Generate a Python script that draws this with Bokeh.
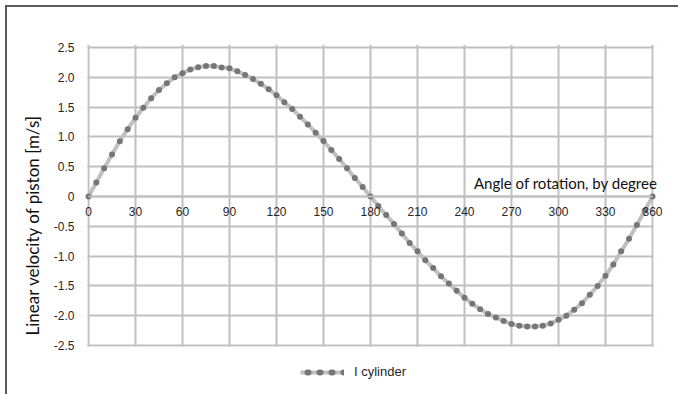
from bokeh.plotting import figure
from bokeh.models import (FixedTicker, Legend, LegendItem, Label, Range1d, ColumnDataSource,
                          LinearAxis, BoxAnnotation)
from bokeh.embed import file_html
from bokeh.resources import INLINE

# ---- data ----
angles = [0, 5, 10, 15, 20, 25, 30, 35, 40, 45, 50, 55, 60, 65, 70, 75, 80, 85,
          90, 95, 100, 105, 110, 115, 120, 125, 130, 135, 140, 145, 150, 155, 160, 165, 170, 175,
          180, 185, 190, 195, 200, 205, 210, 215, 220, 225, 230, 235, 240, 245, 250, 255, 260, 265,
          270, 275, 280, 285, 290, 295, 300, 305, 310, 315, 320, 325, 330, 335, 340, 345, 350, 355, 360]
velocity = [0, 0.235, 0.476, 0.705, 0.929, 1.13, 1.32, 1.49, 1.65, 1.785, 1.90, 2.00, 2.07, 2.13, 2.17, 2.19, 2.19, 2.165,
            2.15, 2.10, 2.04, 1.97, 1.89, 1.80, 1.70, 1.58, 1.47, 1.34, 1.21, 1.07, 0.93, 0.78, 0.63, 0.475, 0.31, 0.16,
            0, -0.16, -0.31, -0.46, -0.62, -0.78, -0.92, -1.07, -1.20, -1.34, -1.46, -1.58, -1.70, -1.80, -1.89, -1.97, -2.03, -2.09,
            -2.14, -2.17, -2.18, -2.18, -2.17, -2.13, -2.07, -2.00, -1.90, -1.79, -1.65, -1.50, -1.33, -1.14, -0.92, -0.71, -0.48, -0.24, 0]
x_ticks = [0, 30, 60, 90, 120, 150, 180, 210, 240, 270, 300, 330, 360]
y_ticks = [-2.5, -2.0, -1.5, -1.0, -0.5, 0, 0.5, 1.0, 1.5, 2.0, 2.5]
y_tick_labels = {-2.5: "-2.5", -2.0: "-2.0", -1.5: "-1.5", -1.0: "-1.0", -0.5: "-0.5", 0: "0",
                 0.5: "0.5", 1.0: "1.0", 1.5: "1.5", 2.0: "2.0", 2.5: "2.5"}
series_name = "I cylinder"
x_title = "Angle of rotation, by degree"
y_title = "Linear velocity of piston [m/s]"

GRID = "#c0c0c0"
DOT = "#767676"
TXT = "#262626"

PX_X = 564 / 360.0
PX_Y = 298 / 5.0
EXT_L, EXT_R, EXT_T, EXT_B = 6, 10, 3, 60
x_lo, x_hi = x_ticks[0], x_ticks[-1]
y_lo, y_hi = y_ticks[0], y_ticks[-1]

p = figure(frame_width=564 + EXT_L + EXT_R, frame_height=298 + EXT_T + EXT_B,
           min_border_left=75, min_border_right=16, min_border_top=37, min_border_bottom=10,
           x_range=Range1d(x_lo - EXT_L / PX_X, x_hi + EXT_R / PX_X),
           y_range=Range1d(y_lo - EXT_B / PX_Y, y_hi + EXT_T / PX_Y),
           x_axis_location=None,
           output_backend="svg", toolbar_location=None,
           background_fill_color="white", border_fill_color="white",
           styles={"margin-left": "5px", "margin-top": "5px",
                   "border-top": "2px solid #5a5a5a", "border-left": "2px solid #5a5a5a"})

p.outline_line_color = None

p.yaxis.ticker = FixedTicker(ticks=y_ticks)
p.yaxis.major_label_overrides = y_tick_labels
p.yaxis.axis_line_color = None
p.yaxis.major_tick_line_color = None
p.yaxis.minor_tick_line_color = None
p.yaxis.major_label_text_font = "Liberation Sans"
p.yaxis.major_label_text_font_size = "12px"
p.yaxis.major_label_text_color = TXT
p.yaxis.major_label_standoff = 2
p.yaxis.axis_label = y_title
p.yaxis.axis_label_text_font = "Lato"
p.yaxis.axis_label_text_font_size = "17px"
p.yaxis.axis_label_text_font_style = "normal"
p.yaxis.axis_label_text_color = "#111111"
p.yaxis.axis_label_standoff = 8

p.xgrid.ticker = FixedTicker(ticks=x_ticks)
p.ygrid.ticker = FixedTicker(ticks=y_ticks)
p.xgrid.grid_line_color = GRID
p.ygrid.grid_line_color = GRID
p.xgrid.grid_line_width = 2
p.ygrid.grid_line_width = 2

# white masks so that the grid stops at the chart area edges
pad_x = 1.2 / PX_X
pad_y = 1.2 / PX_Y
for kw in (dict(top=y_lo - pad_y), dict(right=x_lo - pad_x), dict(left=x_hi + pad_x)):
    p.add_layout(BoxAnnotation(fill_color="white", fill_alpha=1, line_color=None,
                               level="underlay", **kw))

src = ColumnDataSource(dict(x=angles, y=velocity))
line_r = p.line("x", "y", source=src, line_color=GRID, line_width=4)
dots_r = p.scatter("x", "y", source=src, size=6, fill_color=DOT, line_color=None)
# legend sample of dotted marker line (nothing drawn in the plot)
dummy = p.line(x=[float("nan")], y=[float("nan")], line_color=DOT, line_width=6,
               line_dash="1 11", line_dash_offset=5, line_cap="round")

xaxis = LinearAxis(ticker=FixedTicker(ticks=x_ticks), fixed_location=0, bounds=(x_lo, x_hi),
                   axis_line_color=GRID, axis_line_width=2,
                   major_tick_line_color=None, minor_tick_line_color=None,
                   major_label_text_font="Liberation Sans", major_label_text_font_size="12px",
                   major_label_text_color=TXT, major_label_standoff=4)
p.add_layout(xaxis, "below")

legend = Legend(items=[LegendItem(label=series_name, renderers=[line_r, dummy])],
                location=(218, 26), orientation="horizontal", glyph_width=44, glyph_height=14,
                label_text_font="Liberation Sans", label_text_font_size="13px",
                label_text_color=TXT, border_line_color=None, background_fill_alpha=0,
                padding=0, margin=0, label_standoff=10)
p.add_layout(legend, "center")

p.add_layout(Label(x=x_hi, y=0, x_offset=5, y_offset=5, text=x_title,
                   text_align="right", text_baseline="bottom",
                   text_font="Lato", text_font_size="15px", text_color="#111111"))

open("out.html", "w").write(file_html(p, INLINE))
